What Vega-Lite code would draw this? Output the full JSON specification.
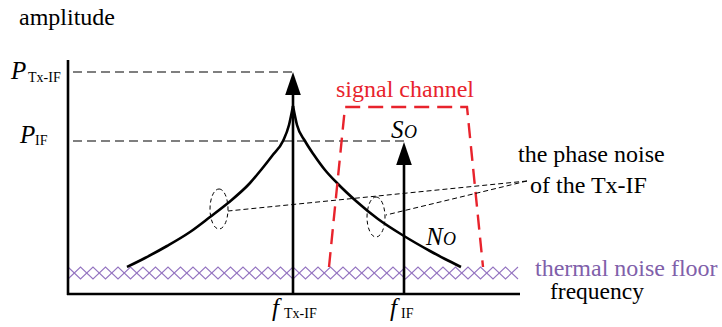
{
  "$schema": "https://vega.github.io/schema/vega-lite/v6.json",
  "width": 722,
  "height": 327,
  "padding": 0,
  "autosize": "none",
  "background": "white",
  "config": {"view": {"stroke": null}, "font": "'Liberation Serif', 'Times New Roman', serif"},
  "datasets": {
    "floor": [
      {"x":68,"y":267,"s":"a"},{"x":80.5,"y":279,"s":"a"},{"x":93,"y":267,"s":"a"},{"x":105.5,"y":279,"s":"a"},{"x":118,"y":267,"s":"a"},{"x":130.5,"y":279,"s":"a"},{"x":143,"y":267,"s":"a"},{"x":155.5,"y":279,"s":"a"},{"x":168,"y":267,"s":"a"},{"x":180.5,"y":279,"s":"a"},{"x":193,"y":267,"s":"a"},{"x":205.5,"y":279,"s":"a"},{"x":218,"y":267,"s":"a"},{"x":230.5,"y":279,"s":"a"},{"x":243,"y":267,"s":"a"},{"x":255.5,"y":279,"s":"a"},{"x":268,"y":267,"s":"a"},{"x":280.5,"y":279,"s":"a"},{"x":293,"y":267,"s":"a"},{"x":305.5,"y":279,"s":"a"},{"x":318,"y":267,"s":"a"},{"x":330.5,"y":279,"s":"a"},{"x":343,"y":267,"s":"a"},{"x":355.5,"y":279,"s":"a"},{"x":368,"y":267,"s":"a"},{"x":380.5,"y":279,"s":"a"},{"x":393,"y":267,"s":"a"},{"x":405.5,"y":279,"s":"a"},{"x":418,"y":267,"s":"a"},{"x":430.5,"y":279,"s":"a"},{"x":443,"y":267,"s":"a"},{"x":455.5,"y":279,"s":"a"},{"x":468,"y":267,"s":"a"},{"x":480.5,"y":279,"s":"a"},{"x":493,"y":267,"s":"a"},{"x":505.5,"y":279,"s":"a"},{"x":518,"y":267,"s":"a"},
      {"x":68,"y":279,"s":"b"},{"x":80.5,"y":267,"s":"b"},{"x":93,"y":279,"s":"b"},{"x":105.5,"y":267,"s":"b"},{"x":118,"y":279,"s":"b"},{"x":130.5,"y":267,"s":"b"},{"x":143,"y":279,"s":"b"},{"x":155.5,"y":267,"s":"b"},{"x":168,"y":279,"s":"b"},{"x":180.5,"y":267,"s":"b"},{"x":193,"y":279,"s":"b"},{"x":205.5,"y":267,"s":"b"},{"x":218,"y":279,"s":"b"},{"x":230.5,"y":267,"s":"b"},{"x":243,"y":279,"s":"b"},{"x":255.5,"y":267,"s":"b"},{"x":268,"y":279,"s":"b"},{"x":280.5,"y":267,"s":"b"},{"x":293,"y":279,"s":"b"},{"x":305.5,"y":267,"s":"b"},{"x":318,"y":279,"s":"b"},{"x":330.5,"y":267,"s":"b"},{"x":343,"y":279,"s":"b"},{"x":355.5,"y":267,"s":"b"},{"x":368,"y":279,"s":"b"},{"x":380.5,"y":267,"s":"b"},{"x":393,"y":279,"s":"b"},{"x":405.5,"y":267,"s":"b"},{"x":418,"y":279,"s":"b"},{"x":430.5,"y":267,"s":"b"},{"x":443,"y":279,"s":"b"},{"x":455.5,"y":267,"s":"b"},{"x":468,"y":279,"s":"b"},{"x":480.5,"y":267,"s":"b"},{"x":493,"y":279,"s":"b"},{"x":505.5,"y":267,"s":"b"},{"x":518,"y":279,"s":"b"}
    ],
    "axes": [
      {"x":68,"y":60,"x2":68,"y2":295},
      {"x":67,"y":294,"x2":520,"y2":294}
    ],
    "guides": [
      {"x":73,"y":72,"x2":293,"y2":72},
      {"x":73,"y":141,"x2":404,"y2":141}
    ],
    "stems": [
      {"x":293,"y":294,"x2":293,"y2":92},
      {"x":404,"y":294,"x2":404,"y2":162}
    ],
    "curve": [
      {"x":127,"y":267,"b":"L"},{"x":145,"y":258,"b":"L"},{"x":167,"y":246,"b":"L"},{"x":190,"y":232,"b":"L"},{"x":210,"y":217,"b":"L"},{"x":228,"y":203,"b":"L"},{"x":250,"y":183,"b":"L"},{"x":261,"y":170,"b":"L"},{"x":272,"y":156,"b":"L"},{"x":283,"y":141,"b":"L"},{"x":289,"y":125,"b":"L"},{"x":293,"y":106,"b":"L"},
      {"x":293,"y":106,"b":"R"},{"x":297,"y":125,"b":"R"},{"x":305,"y":141,"b":"R"},{"x":314,"y":155,"b":"R"},{"x":325,"y":170,"b":"R"},{"x":337,"y":183,"b":"R"},{"x":356,"y":201,"b":"R"},{"x":378,"y":219,"b":"R"},{"x":404,"y":236,"b":"R"},{"x":430,"y":251,"b":"R"},{"x":445,"y":259,"b":"R"},{"x":461,"y":267,"b":"R"}
    ],
    "heads": [
      {"x":293,"y":83.5},
      {"x":404,"y":153.5}
    ],
    "channel": [
      {"x":329,"y":267},{"x":345,"y":107},{"x":467,"y":107},{"x":483,"y":267}
    ],
    "ellipses": [
      {"x":219,"y":209},
      {"x":376,"y":217}
    ],
    "leaders": [
      {"x":527,"y":181,"x2":228,"y2":211},
      {"x":527,"y":181,"x2":386,"y2":215}
    ],
    "plainText": [
      {"x":19,"y":25,"t":"amplitude"},
      {"x":518,"y":162,"t":"the phase noise"},
      {"x":530,"y":193,"t":"of the Tx-IF"}
    ],
    "freqText": [
      {"x":550,"y":299,"t":"frequency"}
    ],
    "redText": [{"x":336,"y":97,"t":"signal channel"}],
    "purpleText": [{"x":535,"y":275.5,"t":"thermal noise floor"}],
    "italicBig": [
      {"x":11,"y":79,"t":"P"},
      {"x":20,"y":143,"t":"P"},
      {"x":272,"y":316,"t":"f"},
      {"x":390,"y":316,"t":"f"},
      {"x":391,"y":138,"t":"S"},
      {"x":426,"y":245,"t":"N"}
    ],
    "italicSmall": [
      {"x":404,"y":138,"t":"O"},
      {"x":443,"y":245,"t":"O"}
    ],
    "subs": [
      {"x":28,"y":82,"t":"Tx-IF"},
      {"x":35,"y":145,"t":"IF"},
      {"x":284,"y":318,"t":"Tx-IF"},
      {"x":401,"y":318,"t":"IF"}
    ]
  },
  "encoding": {
    "x": {"field": "x", "type": "quantitative", "scale": {"domain": [0, 722], "nice": false, "zero": false}, "axis": null},
    "y": {"field": "y", "type": "quantitative", "scale": {"domain": [0, 327], "nice": false, "zero": false, "reverse": true}, "axis": null}
  },
  "layer": [
    {
      "data": {"name": "floor"},
      "mark": {"type": "line", "color": "#9474c0", "strokeWidth": 1.1},
      "encoding": {"detail": {"field": "s"}}
    },
    {
      "data": {"name": "axes"},
      "mark": {"type": "rule", "color": "black", "strokeWidth": 2.6},
      "encoding": {"x2": {"field": "x2"}, "y2": {"field": "y2"}}
    },
    {
      "data": {"name": "guides"},
      "mark": {"type": "rule", "color": "#555555", "strokeWidth": 1.4, "strokeDash": [9, 5]},
      "encoding": {"x2": {"field": "x2"}, "y2": {"field": "y2"}}
    },
    {
      "data": {"name": "stems"},
      "mark": {"type": "rule", "color": "black", "strokeWidth": 2.6},
      "encoding": {"x2": {"field": "x2"}, "y2": {"field": "y2"}}
    },
    {
      "data": {"name": "curve"},
      "mark": {"type": "line", "color": "black", "strokeWidth": 2.6, "interpolate": "monotone"},
      "encoding": {"detail": {"field": "b"}}
    },
    {
      "data": {"name": "heads"},
      "mark": {"type": "point", "filled": true, "color": "black", "opacity": 1, "size": 529, "shape": "M0,-1L0.68,1L-0.68,1Z"},
      "encoding": {}
    },
    {
      "data": {"name": "channel"},
      "mark": {"type": "line", "color": "#e8232c", "strokeWidth": 2.4, "strokeDash": [15, 8]},
      "encoding": {}
    },
    {
      "data": {"name": "ellipses"},
      "mark": {"type": "point", "filled": false, "color": "black", "opacity": 1, "strokeWidth": 1, "strokeDash": [4, 3], "size": 1600, "shape": "M0,-1A0.45,1,0,1,1,0,1A0.45,1,0,1,1,0,-1Z"},
      "encoding": {}
    },
    {
      "data": {"name": "leaders"},
      "mark": {"type": "rule", "color": "black", "strokeWidth": 1, "strokeDash": [5, 3]},
      "encoding": {"x2": {"field": "x2"}, "y2": {"field": "y2"}}
    },
    {
      "data": {"name": "plainText"},
      "mark": {"type": "text", "align": "left", "baseline": "alphabetic", "font": "'Liberation Serif', 'Times New Roman', serif", "fontSize": 24, "color": "black"},
      "encoding": {"text": {"field": "t"}}
    },
    {
      "data": {"name": "freqText"},
      "mark": {"type": "text", "align": "left", "baseline": "alphabetic", "font": "'Liberation Serif', 'Times New Roman', serif", "fontSize": 23.5, "color": "black"},
      "encoding": {"text": {"field": "t"}}
    },
    {
      "data": {"name": "redText"},
      "mark": {"type": "text", "align": "left", "baseline": "alphabetic", "font": "'Liberation Serif', 'Times New Roman', serif", "fontSize": 24, "color": "#e8232c"},
      "encoding": {"text": {"field": "t"}}
    },
    {
      "data": {"name": "purpleText"},
      "mark": {"type": "text", "align": "left", "baseline": "alphabetic", "font": "'Liberation Serif', 'Times New Roman', serif", "fontSize": 24, "color": "#8060aa"},
      "encoding": {"text": {"field": "t"}}
    },
    {
      "data": {"name": "italicBig"},
      "mark": {"type": "text", "align": "left", "baseline": "alphabetic", "font": "'Liberation Serif', 'Times New Roman', serif", "fontSize": 25, "fontStyle": "italic", "color": "black"},
      "encoding": {"text": {"field": "t"}}
    },
    {
      "data": {"name": "italicSmall"},
      "mark": {"type": "text", "align": "left", "baseline": "alphabetic", "font": "'Liberation Serif', 'Times New Roman', serif", "fontSize": 18, "fontStyle": "italic", "color": "black"},
      "encoding": {"text": {"field": "t"}}
    },
    {
      "data": {"name": "subs"},
      "mark": {"type": "text", "align": "left", "baseline": "alphabetic", "font": "'Liberation Serif', 'Times New Roman', serif", "fontSize": 14, "color": "black"},
      "encoding": {"text": {"field": "t"}}
    }
  ]
}
